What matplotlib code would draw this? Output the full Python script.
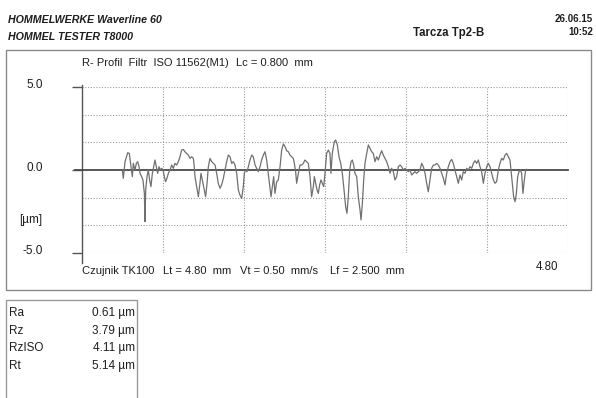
import matplotlib
matplotlib.use("Agg")
import matplotlib.pyplot as plt
from matplotlib import font_manager
from matplotlib.patches import Rectangle

# Profil R: polozenie [mm], wysokosc [um]
x_mm = [0.398, 0.408, 0.425, 0.451, 0.467, 0.484, 0.497, 0.507, 0.523, 0.537,
        0.550, 0.563, 0.573, 0.589, 0.602, 0.616, 0.622, 0.629, 0.642, 0.655,
        0.668, 0.681, 0.695, 0.708, 0.721, 0.734, 0.747, 0.760, 0.774, 0.787,
        0.800, 0.813, 0.826, 0.839, 0.853, 0.869, 0.886, 0.902, 0.918, 0.935,
        0.951, 0.968, 0.984, 1.001, 1.017, 1.034, 1.050, 1.067, 1.083, 1.100,
        1.109, 1.116, 1.132, 1.149, 1.165, 1.175, 1.188, 1.205, 1.221, 1.235,
        1.248, 1.264, 1.281, 1.297, 1.314, 1.330, 1.346, 1.363, 1.379, 1.396,
        1.412, 1.429, 1.445, 1.462, 1.478, 1.495, 1.511, 1.528, 1.544, 1.560,
        1.577, 1.593, 1.603, 1.616, 1.630, 1.643, 1.659, 1.676, 1.692, 1.709,
        1.725, 1.741, 1.758, 1.774, 1.791, 1.807, 1.824, 1.840, 1.857, 1.867,
        1.880, 1.893, 1.906, 1.923, 1.939, 1.956, 1.972, 1.989, 2.005, 2.021,
        2.038, 2.054, 2.071, 2.087, 2.097, 2.110, 2.120, 2.137, 2.153, 2.170,
        2.186, 2.202, 2.219, 2.235, 2.252, 2.268, 2.285, 2.295, 2.308, 2.321,
        2.334, 2.347, 2.360, 2.374, 2.387, 2.400, 2.416, 2.433, 2.449, 2.459,
        2.472, 2.492, 2.505, 2.522, 2.538, 2.555, 2.571, 2.588, 2.604, 2.617,
        2.630, 2.644, 2.657, 2.670, 2.683, 2.696, 2.713, 2.729, 2.746, 2.756,
        2.769, 2.782, 2.795, 2.812, 2.828, 2.844, 2.861, 2.877, 2.894, 2.910,
        2.927, 2.943, 2.960, 2.976, 2.993, 3.009, 3.026, 3.042, 3.058, 3.075,
        3.091, 3.108, 3.124, 3.141, 3.157, 3.174, 3.190, 3.207, 3.223, 3.239,
        3.256, 3.272, 3.289, 3.305, 3.322, 3.338, 3.355, 3.371, 3.388, 3.404,
        3.420, 3.437, 3.453, 3.470, 3.486, 3.503, 3.519, 3.536, 3.552, 3.569,
        3.585, 3.602, 3.618, 3.635, 3.651, 3.667, 3.684, 3.700, 3.717, 3.733,
        3.750, 3.766, 3.783, 3.799, 3.816, 3.832, 3.849, 3.865, 3.881, 3.898,
        3.914, 3.931, 3.947, 3.964, 3.980, 3.997, 4.013, 4.030, 4.046, 4.063,
        4.079, 4.095, 4.112, 4.128, 4.145, 4.161, 4.178, 4.194, 4.211, 4.227,
        4.237, 4.250, 4.263, 4.277, 4.290, 4.303, 4.316, 4.329, 4.342, 4.355,
        4.369, 4.382, 4.392]
y_um = [0.00, -0.50, 0.50, 1.04, 1.00, 0.20, -0.40, 0.40, 0.00, 0.40,
        0.50, 0.20, -0.20, -0.40, -0.60, -1.41, -3.11, -1.20, -0.40, 0.00,
        -0.60, -1.00, -0.20, 0.20, 0.60, 0.20, -0.20, 0.20, 0.00, 0.10,
        0.00, -0.40, -0.70, -0.50, -0.20, 0.00, 0.30, 0.10, 0.40, 0.30,
        0.50, 0.80, 1.20, 1.24, 1.10, 1.00, 0.90, 0.70, 0.80, 0.70,
        0.20, -0.40, -1.00, -1.61, -0.80, -0.20, -0.60, -1.10, -1.61, -0.80,
        0.20, 0.70, 0.50, 0.40, 0.30, -0.20, -0.80, -1.10, -0.90, -0.50,
        0.00, 0.50, 0.90, 0.80, 0.40, 0.50, 0.30, -0.20, -1.20, -1.51,
        -1.71, -1.00, -0.20, 0.00, -0.10, 0.20, 0.60, 0.90, 0.80, 0.30,
        0.10, -0.10, 0.20, 0.60, 0.90, 1.10, 0.60, -0.20, -1.10, -1.61,
        -1.00, -0.40, -1.41, -0.70, -0.60, 0.20, 1.20, 1.57, 1.41, 1.16,
        1.10, 0.90, 0.80, 0.70, 0.40, -0.10, -0.80, -0.20, 0.30, 0.30,
        0.40, 0.60, 0.50, 0.40, -0.40, -1.61, -1.00, -0.40, -0.80, -1.20,
        -1.41, -0.90, -0.60, -0.80, -1.00, -0.20, 1.00, 1.20, 1.00, -0.20,
        1.00, 1.71, 1.81, 1.51, 0.80, 0.40, -0.20, -1.20, -2.21, -2.61,
        -1.61, 0.00, 0.50, 0.60, 0.30, -0.20, -0.40, -1.61, -2.41, -3.01,
        -2.01, -0.60, 0.40, 1.00, 1.51, 1.31, 1.10, 1.00, 0.50, 0.80,
        0.60, 0.90, 1.16, 0.90, 0.70, 0.50, 0.20, -0.20, 0.10, -0.10,
        -0.60, -0.40, 0.20, 0.30, 0.20, 0.00, 0.10, 0.00, -0.10, 0.00,
        -0.30, -0.20, -0.10, -0.20, -0.10, 0.00, 0.40, 0.20, -0.20, -0.80,
        -1.31, -0.60, 0.10, 0.30, 0.30, 0.40, 0.30, 0.10, -0.20, -0.50,
        -0.90, -0.20, 0.20, 0.50, 0.64, 0.40, 0.00, -0.40, -0.80, -0.30,
        -0.60, -0.10, -0.20, 0.10, 0.00, 0.20, 0.10, 0.40, 0.56, 0.40,
        0.60, 0.20, -0.10, -0.80, -0.20, 0.20, 0.40, 0.20, -0.20, -0.60,
        -0.80, -0.70, 0.00, 0.40, 0.70, 0.60, 0.90, 1.00, 0.80, 0.60,
        0.00, -0.80, -1.61, -1.91, -1.41, -0.40, -0.10, 0.00, -0.20, -1.41,
        -0.60, 0.00, 0.04]

y_ticks = [5.0, 0.0, -5.0]
y_tick_labels = ["5.0", "0.0", "-5.0"]
x_end = 4.80

params = ["Ra", "Rz", "RzISO", "Rt"]
param_values = ["0.61 µm", "3.79 µm", "4.11 µm", "5.14 µm"]

# czcionka waska jak na wydruku (jesli jest)
names = {f.name for f in font_manager.fontManager.ttflist}
narrow = "Liberation Sans Narrow" if "Liberation Sans Narrow" in names else "Liberation Sans"
fam = [narrow, "DejaVu Sans"]

W, H = 596, 398
fig = plt.figure(figsize=(W / 100, H / 100), dpi=100)
fig.patch.set_facecolor("white")


def fx(px):
    return px / W


def fy(py):
    return 1 - py / H


txt = "#1e1e1e"


def put(px, py, s, size=8, ha="left", **kw):
    fig.text(fx(px), fy(py), s, fontsize=size, family=fam, color=txt,
             va="center", ha=ha, **kw)


# naglowek
put(8, 20, "HOMMELWERKE Waverline 60", 7.7, fontweight="bold", fontstyle="italic")
put(8, 37, "HOMMEL TESTER T8000", 7.7, fontweight="bold", fontstyle="italic")
put(413, 33, "Tarcza Tp2-B", 8.3, fontweight="bold")
put(593, 19, "26.06.15", 7, ha="right", fontweight="bold")
put(593, 32, "10:52", 7, ha="right", fontweight="bold")

# ramki
fig.add_artist(Rectangle((fx(6), fy(290)), fx(585), (290 - 50) / H,
                         fill=False, edgecolor="#8a8a8a", lw=1.0))
fig.add_artist(Rectangle((fx(6), fy(420)), fx(131), (420 - 300) / H,
                         fill=False, edgecolor="#9a9a9a", lw=1.0, clip_on=False))

# wykres profilu
ax = fig.add_axes([fx(82), fy(253), fx(568 - 82), (253 - 87) / H])
ax.set_xlim(0, x_end)
ax.set_ylim(-5, 5)
for s in ["top", "right", "bottom", "left"]:
    ax.spines[s].set_visible(False)

grid_kw = dict(color="#9a9a9a", lw=0.8, ls=(0, (1, 1.5)))
for i in range(1, 7):
    ax.axvline(i * 0.8, **grid_kw)
for v in [5, 10 / 3, 5 / 3, -5 / 3, -10 / 3, -5]:
    ax.axhline(v, **grid_kw)

ax.plot([0, 0], [-5.6, 5.1], color="#555555", lw=1.0, clip_on=False)
ax.plot([-0.07, x_end], [0, 0], color="#4a4a4a", lw=1.3, clip_on=False)
ax.plot(x_mm, y_um, color="#707070", lw=0.9)

ax.set_xticks([])
ax.set_yticks(y_ticks)
ax.set_yticklabels([])
ax.tick_params(axis="y", length=7, width=1.0, color="#555555", direction="out")

for v, lab in zip(y_ticks, y_tick_labels):
    ax.text(-0.39, v + 0.15, lab, fontsize=8.5, family=fam, color=txt,
            ha="right", va="center")
ax.text(-0.39, -3.0, "[µm]", fontsize=8.5, family=fam, color=txt, ha="right", va="center")

# opisy nad i pod wykresem
put(82, 63, "R- Profil  Filtr  ISO 11562(M1)")
put(236, 63, "Lc = 0.800  mm")
put(82, 271, "Czujnik TK100")
put(163, 271, "Lt = 4.80  mm")
put(240, 271, "Vt = 0.50  mm/s")
put(330, 271, "Lf = 2.500  mm")
put(558, 267, "4.80", 8.3, ha="right")

# parametry
for i, (p, val) in enumerate(zip(params, param_values)):
    yy = 313 + i * 17.6
    put(9, yy, p, 8.5)
    put(135, yy, val, 8.5, ha="right")

fig.savefig("out.png", dpi=100)
